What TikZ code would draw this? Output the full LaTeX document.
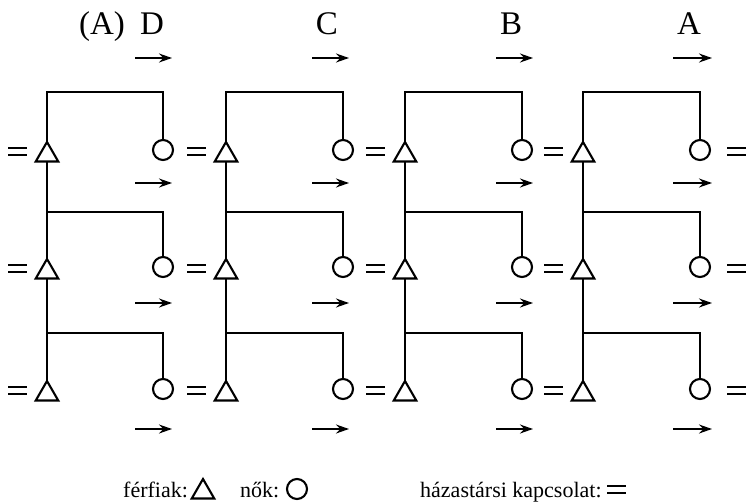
\documentclass[tikz,border=0pt]{standalone}
\usepackage{fontspec}
\setmainfont{Liberation Serif}
\usetikzlibrary{shapes.geometric,arrows.meta}
\tikzset{
  male/.style={draw,regular polygon,regular polygon sides=3,minimum size=26pt,inner sep=0pt,outer sep=0pt,line width=2.1pt},
  female/.style={draw,circle,minimum size=20pt,inner sep=0pt,outer sep=0pt,line width=2.1pt},
  link/.style={line width=2.1pt},
  eqbar/.style={line width=2pt},
  flow/.style={line width=1.5pt,-{Stealth[length=13pt,width=9pt,inset=4.5pt]}},
  toplabel/.style={font=\fontsize{33}{36}\selectfont,anchor=base,inner sep=0pt},
  legendtext/.style={font=\fontsize{22}{24}\selectfont,anchor=base west,inner sep=0pt},
  equal/.pic={\draw[eqbar] (0,-3.5) -- (19,-3.5) (0,3.5) -- (19,3.5);}
}
\begin{document}
\begin{tikzpicture}[x=1pt,y=-1pt,line join=miter]
\useasboundingbox (0,0) rectangle (746,503);

% people
\foreach \c/\tx/\cx in {1/47/163, 2/226/343, 3/405/522, 4/583/700}{
  \foreach \r/\ty/\cy/\by/\ey in {1/155/150/92/151, 2/272/267/212/268, 3/394/389/333/390}{
    \node[male] (t-\c-\r) at (\tx,\ty) {};
    \node[female] (f-\c-\r) at (\cx,\cy) {};
    \coordinate (b-\c-\r) at (\tx,\by);
    \pic at ({\tx-39},\ey) {equal};
  }
}
% equal signs right of last column
\foreach \ey in {151,268,390}{
  \pic at (727,\ey) {equal};
}

% kinship lines
\foreach \c in {1,...,4}{
  \draw[link] (t-\c-1.corner 1) -- (b-\c-1) -| (f-\c-1.north);
  \draw[link] (t-\c-2.corner 1) -- (t-\c-1.side 2);
  \draw[link] (t-\c-3.corner 1) -- (t-\c-2.side 2);
  \draw[link] (b-\c-2) -| (f-\c-2.north);
  \draw[link] (b-\c-3) -| (f-\c-3.north);
}

% arrows
\foreach \c/\xa/\xb in {1/135/172, 2/312/349, 3/496/533, 4/673/712}{
  \foreach \ay in {58,183,303,429}{
    \coordinate (as-\c-\ay) at (\xa,\ay);
    \coordinate (ae-\c-\ay) at (\xb,\ay);
    \draw[flow] (as-\c-\ay) -- (ae-\c-\ay);
  }
}

% top labels
\node[toplabel] (lab-A0) at (102,35) {(A)};
\node[toplabel] (lab-D) at (152,35) {D};
\node[toplabel] (lab-C) at (327,35) {C};
\node[toplabel] (lab-B) at (511,35) {B};
\node[toplabel] (lab-A) at (689,35) {A};

% legend
\node[legendtext] (leg-m) at (123,497) {férfiak:};
\node[male] (leg-t) at (203,492) {};
\node[legendtext] (leg-f) at (240,497) {nők:};
\node[female] (leg-c) at (297,489) {};
\node[legendtext] (leg-e) at (420,497) {házastársi kapcsolat:};
\pic at (607,489) {equal};
\end{tikzpicture}
\end{document}
